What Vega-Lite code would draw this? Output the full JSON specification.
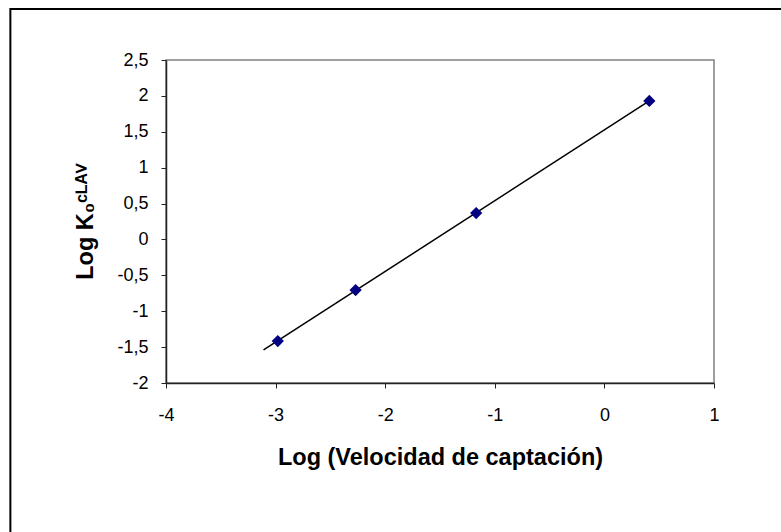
{
  "$schema": "https://vega.github.io/schema/vega-lite/v6.json",
  "width": 548,
  "height": 323,
  "autosize": {"type": "none"},
  "padding": {"left": 166, "top": 60, "right": 67, "bottom": 149},
  "background": "white",
  "config": {
    "locale": {"number": {"decimal": ",", "thousands": ".", "grouping": [3], "currency": ["", ""], "minus": "-"}},
    "view": {"stroke": "#808080", "strokeWidth": 1.5},
    "font": "Liberation Sans",
    "axis": {
      "grid": false,
      "domainColor": "#222222",
      "domainWidth": 1.5,
      "tickColor": "#222222",
      "tickSize": 5,
      "labelFont": "Liberation Sans",
      "labelFontSize": 18,
      "labelColor": "#000000",
      "labelOverlap": false,
      "labelBound": false,
      "labelFlush": false,
      "titleFont": "Liberation Sans",
      "titleFontSize": 23.5,
      "titleFontWeight": "bold",
      "titleColor": "#000000"
    }
  },
  "datasets": {
    "points": [
      {"x": -2.98, "y": -1.415},
      {"x": -2.27, "y": -0.705},
      {"x": -1.17, "y": 0.367},
      {"x": 0.41, "y": 1.93}
    ],
    "trend": [
      {"x": -3.11, "y": -1.54},
      {"x": 0.42, "y": 1.94}
    ]
  },
  "layer": [
    {
      "data": {"name": "trend"},
      "mark": {"type": "line", "color": "#000000", "strokeWidth": 1.5},
      "encoding": {
        "x": {
          "field": "x", "type": "quantitative",
          "scale": {"domain": [-4, 1], "nice": false, "zero": false},
          "axis": {"values": [-4, -3, -2, -1, 0, 1], "format": "~g", "title": "Log (Velocidad de captación)", "labelPadding": 18, "titlePadding": 21}
        },
        "y": {
          "field": "y", "type": "quantitative",
          "scale": {"domain": [-2, 2.5], "nice": false, "zero": false},
          "axis": {"values": [-2, -1.5, -1, -0.5, 0, 0.5, 1, 1.5, 2, 2.5], "format": "~g", "title": "Log K₀ᶜᴸᴬⱽ", "labelPadding": 13, "titlePadding": 19}
        }
      }
    },
    {
      "data": {"name": "points"},
      "mark": {"type": "point", "shape": "diamond", "filled": true, "size": 150, "color": "#000080", "opacity": 1},
      "encoding": {
        "x": {
          "field": "x", "type": "quantitative",
          "axis": {"values": [-4, -3, -2, -1, 0, 1], "format": "~g", "title": "Log (Velocidad de captación)", "labelPadding": 18, "titlePadding": 21}
        },
        "y": {
          "field": "y", "type": "quantitative",
          "axis": {"values": [-2, -1.5, -1, -0.5, 0, 0.5, 1, 1.5, 2, 2.5], "format": "~g", "title": "Log K₀ᶜᴸᴬⱽ", "labelPadding": 13, "titlePadding": 19}
        }
      }
    },
    {
      "data": {"values": [{}]},
      "mark": {"type": "rect", "filled": false, "fill": null, "stroke": "#000000", "strokeWidth": 2},
      "encoding": {
        "x": {
          "datum": -5.42, "type": "quantitative",
          "axis": {"values": [-4, -3, -2, -1, 0, 1], "format": "~g", "title": "Log (Velocidad de captación)", "labelPadding": 18, "titlePadding": 21}
        },
        "x2": {"datum": 1.9},
        "y": {
          "datum": 3.21, "type": "quantitative",
          "axis": {"values": [-2, -1.5, -1, -0.5, 0, 0.5, 1, 1.5, 2, 2.5], "format": "~g", "title": "Log K₀ᶜᴸᴬⱽ", "labelPadding": 13, "titlePadding": 19}
        },
        "y2": {"datum": -4.5}
      }
    }
  ]
}
